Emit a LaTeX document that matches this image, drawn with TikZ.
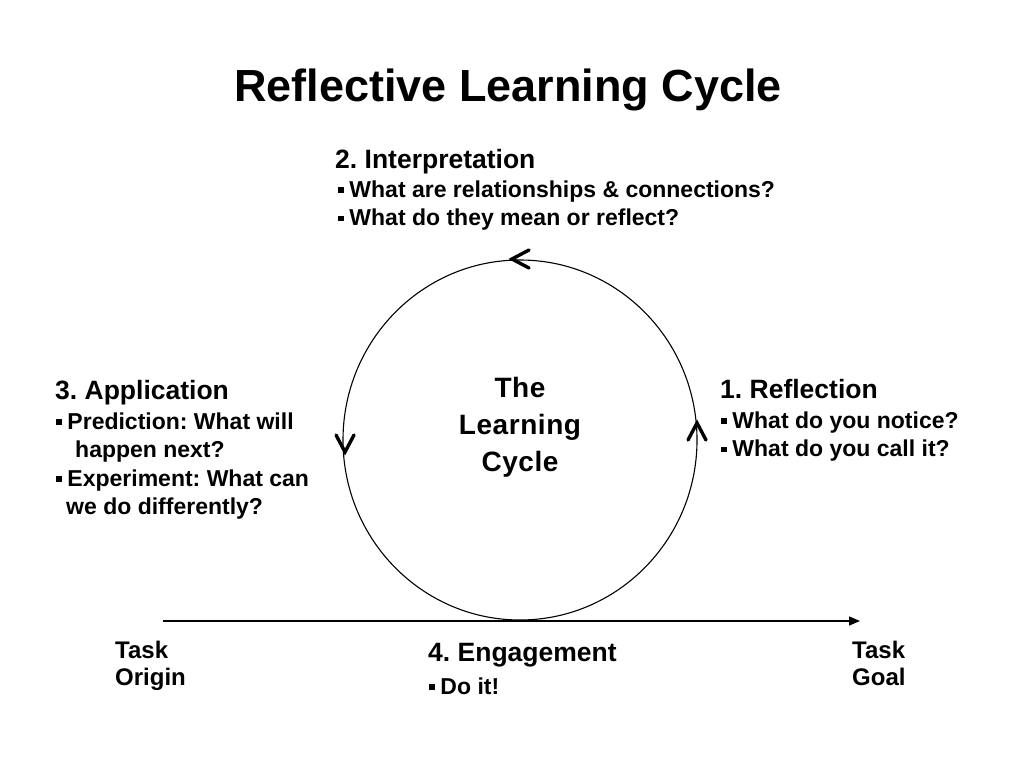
\documentclass[tikz,border=0pt]{standalone}
\usepackage{fontspec}
\setmainfont{Liberation Sans}
\usetikzlibrary{arrows.meta}
\frenchspacing
\newcommand{\sqb}{\rule[0.2em]{0.24em}{0.24em}\hspace{0.25em}}
\tikzset{
  headtxt/.style={anchor=north west, inner sep=0pt, align=left,
    font=\fontsize{26.5}{29}\selectfont\bfseries},
  bodytxt/.style={anchor=north west, inner sep=0pt, align=left,
    font=\fontsize{23}{28.5}\selectfont\bfseries},
  tasktxt/.style={anchor=north west, inner sep=0pt, align=left,
    font=\fontsize{24}{27}\selectfont\bfseries},
  barb/.style={line width=3.4pt, line cap=round, line join=miter},
}
\begin{document}
\begin{tikzpicture}[x=1pt,y=-1pt]
\useasboundingbox[fill=white] (0,0) rectangle (1024,768);

% title
\node[anchor=base, inner sep=0pt, font=\fontsize{45}{50}\selectfont\bfseries] (title) at (508,101) {Reflective Learning Cycle};

% circle
\coordinate (c) at (520,440);
\draw[line width=1.1pt] (c) ellipse [x radius=177, y radius=180];
\node[anchor=north, inner sep=0pt, align=center,
  font=\fontsize{28}{37}\selectfont\bfseries\addfontfeature{LetterSpace=2}] (centre) at (520,377) {The\\Learning\\Cycle};

% arrowheads on the circle
\draw[barb] (529,250) -- (512,259) -- (529,268);
\draw[barb] (336,435) -- (345,452) -- (354,435);
\draw[barb] (688,440) -- (697,423) -- (706,440);

% baseline arrow
\coordinate (orig) at (163,621);
\coordinate (goal) at (860,621);
\draw[line width=1.4pt, -{Triangle[length=11pt,width=9pt]}] (orig) -- (goal);

% 2. Interpretation
\node[headtxt] (h2) at (335,149.5) {2. Interpretation};
\node[bodytxt] (b2) at (338,180.5) {\sqb What are relationships \& connections?\\\sqb What do they mean or reflect?};

% 1. Reflection
\node[headtxt] (h1) at (720,379.5) {1. Reflection};
\node[bodytxt] (b1) at (721,411.5) {\sqb What do you notice?\\\sqb What do you call it?};

% 3. Application
\node[headtxt] (h3) at (55,380.5) {3. Application};
\node[bodytxt] (b3) at (56,412.5) {\sqb Prediction: What will\\\hspace{19pt}happen next?\\\sqb Experiment: What can\\\hspace{10pt}we do differently?};

% 4. Engagement
\node[headtxt] (h4) at (428,643.5) {4. Engagement};
\node[bodytxt] (b4) at (429,677.5) {\sqb Do it!};

% task labels
\node[tasktxt] (to) at (115,641) {Task\\Origin};
\node[tasktxt] (tg) at (852,641) {Task\\Goal};
\end{tikzpicture}
\end{document}
